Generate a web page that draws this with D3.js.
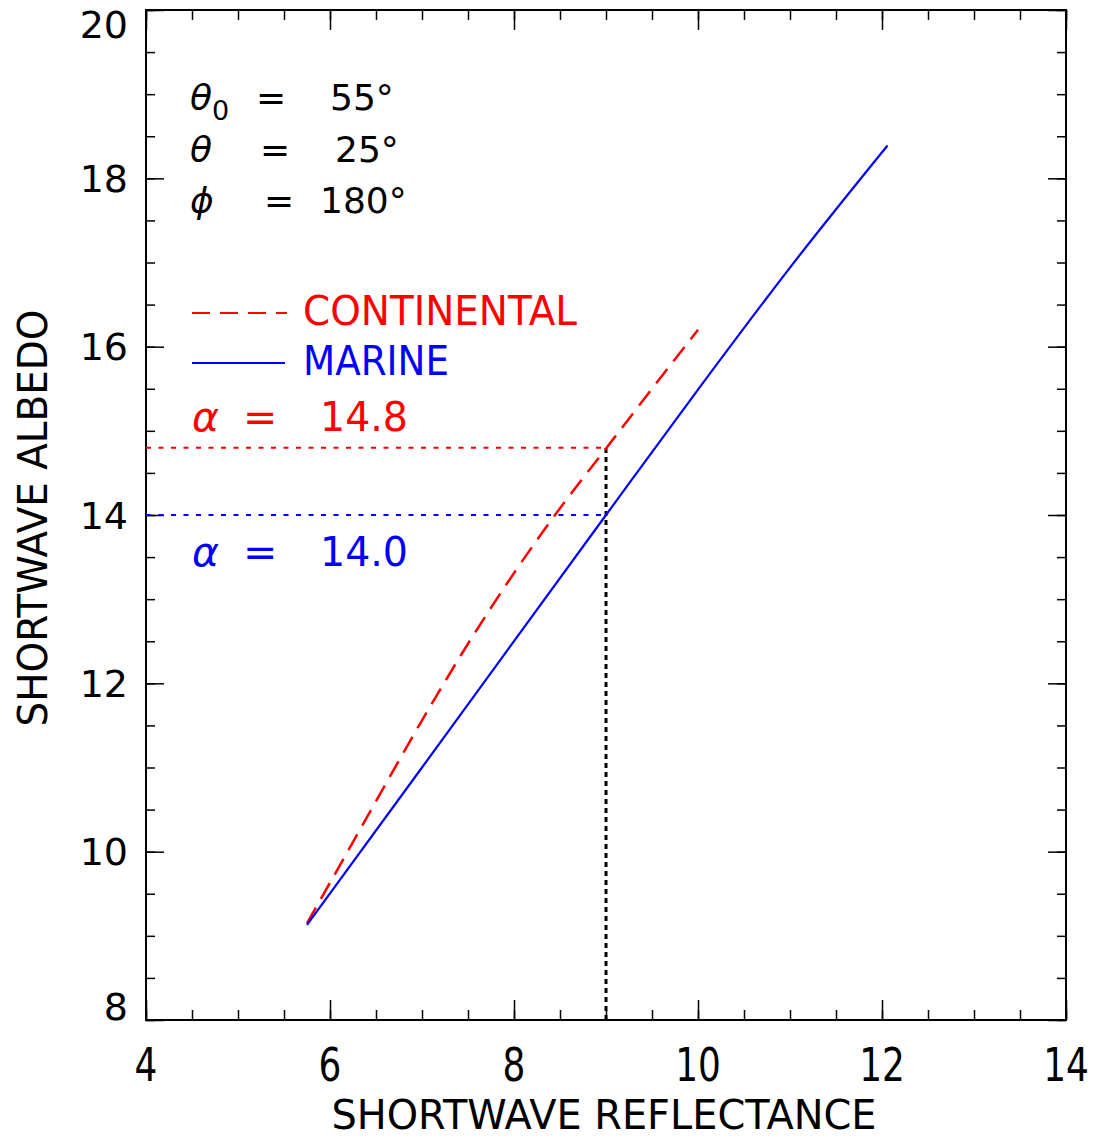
<!DOCTYPE html>
<html>
<head>
<meta charset="utf-8">
<script src="https://cdn.jsdelivr.net/npm/d3@7"></script>
<style>
  body { margin: 0; background: #fff; }
  svg { display: block; }
</style>
</head>
<body>
<div id="chart"></div>
<script>

// tick labels
var xTicks = [4, 6, 8, 10, 12, 14];
var yTicks = [8, 10, 12, 14, 16, 18, 20];

// marine curve (solid blue)
var marineX = [5.75, 7.0, 9.0, 10.0, 11.0, 12.06];
var marineY = [9.13, 11.0, 14.0, 15.49, 16.94, 18.39];

// continental curve (dashed red)
var contX = [5.75, 6.0, 6.5, 7.0, 7.5, 8.0, 8.5, 9.0, 9.5, 10.0];
var contY = [9.15, 9.63, 10.6, 11.56, 12.47, 13.31, 14.08, 14.79, 15.5, 16.2];

// read-off values
var reflectance = 9.0;
var albedoCont = 14.8;
var albedoMarine = 14.0;

var width = 1099, height = 1139;
var margin = {left: 146, right: 33, top: 10, bottom: 119};
var w = width - margin.left - margin.right;
var h = height - margin.top - margin.bottom;

var svg = d3.select("#chart").append("svg")
    .attr("width", width)
    .attr("height", height);

var g = svg.append("g")
    .attr("transform", "translate(" + margin.left + "," + margin.top + ")");

var x = d3.scaleLinear().domain([4, 14]).range([0, w]);
var y = d3.scaleLinear().domain([8, 20]).range([h, 0]);

var xMinor = d3.range(4, 14.001, 0.5);
var yMinor = d3.range(8, 20.001, 0.5);

function tickAxis(axis, vals, size) {
  return axis.tickValues(vals).tickSize(size).tickFormat("");
}

// minor ticks, all four sides, pointing inward
g.append("g").attr("transform", "translate(0," + h + ")")
    .call(tickAxis(d3.axisBottom(x), xMinor, -10));
g.append("g")
    .call(tickAxis(d3.axisTop(x), xMinor, -10));
g.append("g")
    .call(tickAxis(d3.axisLeft(y), yMinor, -9));
g.append("g").attr("transform", "translate(" + w + ",0)")
    .call(tickAxis(d3.axisRight(y), yMinor, -9));

// major ticks
g.append("g").attr("transform", "translate(0," + h + ")")
    .call(tickAxis(d3.axisBottom(x), xTicks, -20));
g.append("g")
    .call(tickAxis(d3.axisTop(x), xTicks, -20));
g.append("g")
    .call(tickAxis(d3.axisLeft(y), yTicks, -18));
g.append("g").attr("transform", "translate(" + w + ",0)")
    .call(tickAxis(d3.axisRight(y), yTicks, -18));

g.selectAll(".domain").remove();
g.selectAll(".tick line").attr("stroke", "#000").attr("stroke-width", 1.5);

// frame
g.append("rect")
    .attr("width", w).attr("height", h)
    .attr("fill", "none").attr("stroke", "#000").attr("stroke-width", 2);

// tick labels (x ones are narrow in the original, squeeze them)
g.selectAll(".xlab").data(xTicks).enter().append("text")
    .attr("class", "xlab")
    .attr("transform", function(d) {
      return "translate(" + x(d) + "," + (h + 61) + ") scale(0.78,1)";
    })
    .attr("text-anchor", "middle")
    .attr("font-family", "DejaVu Sans")
    .attr("font-size", 46)
    .text(function(d) { return d; });

// end labels sit inside the axis range, like the original
g.selectAll(".ylab").data(yTicks).enter().append("text")
    .attr("class", "ylab")
    .attr("x", -18)
    .attr("y", function(d) {
      if (d == 20) return y(d) + 14;
      if (d == 8) return y(d) - 14;
      return y(d);
    })
    .attr("dy", "0.36em")
    .attr("text-anchor", "end")
    .attr("font-family", "DejaVu Sans")
    .attr("font-size", 38)
    .text(function(d) { return d; });

// axis titles
svg.append("text")
    .attr("x", 604).attr("y", 1129)
    .attr("text-anchor", "middle")
    .attr("font-family", "DejaVu Sans")
    .attr("font-size", 40)
    .attr("textLength", 545)
    .attr("lengthAdjust", "spacingAndGlyphs")
    .text("SHORTWAVE REFLECTANCE");

svg.append("text")
    .attr("transform", "translate(47,518) rotate(-90)")
    .attr("text-anchor", "middle")
    .attr("font-family", "DejaVu Sans")
    .attr("font-size", 41)
    .attr("textLength", 417)
    .attr("lengthAdjust", "spacingAndGlyphs")
    .text("SHORTWAVE ALBEDO");

// read-off dotted lines
g.append("line")
    .attr("x1", x(4)).attr("x2", x(reflectance))
    .attr("y1", y(albedoCont)).attr("y2", y(albedoCont))
    .attr("stroke", "#f00").attr("stroke-width", 2)
    .attr("stroke-dasharray", "5,7.5");
g.append("line")
    .attr("x1", x(4)).attr("x2", x(reflectance))
    .attr("y1", y(albedoMarine)).attr("y2", y(albedoMarine))
    .attr("stroke", "#00f").attr("stroke-width", 2)
    .attr("stroke-dasharray", "5,7.5");
g.append("line")
    .attr("x1", x(reflectance)).attr("x2", x(reflectance))
    .attr("y1", y(8)).attr("y2", y(albedoCont))
    .attr("stroke", "#000").attr("stroke-width", 3)
    .attr("stroke-dasharray", "5,4");

// curves
var line = d3.line()
    .x(function(d) { return x(d[0]); })
    .y(function(d) { return y(d[1]); })
    .curve(d3.curveMonotoneX);

g.append("path")
    .datum(d3.zip(contX, contY))
    .attr("d", line)
    .attr("fill", "none").attr("stroke", "#f00").attr("stroke-width", 2.5)
    .attr("stroke-dasharray", "18,10");

g.append("path")
    .datum(d3.zip(marineX, marineY))
    .attr("d", line)
    .attr("fill", "none").attr("stroke", "#00f").attr("stroke-width", 2.2);

// legend
svg.append("line")
    .attr("x1", 192).attr("x2", 287).attr("y1", 313).attr("y2", 313)
    .attr("stroke", "#f00").attr("stroke-width", 2)
    .attr("stroke-dasharray", "18,10");
svg.append("line")
    .attr("x1", 192).attr("x2", 285).attr("y1", 363).attr("y2", 363)
    .attr("stroke", "#00f").attr("stroke-width", 2);

svg.append("text")
    .attr("x", 303).attr("y", 325)
    .attr("font-family", "DejaVu Sans").attr("font-size", 41)
    .attr("fill", "#f00")
    .attr("textLength", 274).attr("lengthAdjust", "spacingAndGlyphs")
    .text("CONTINENTAL");
svg.append("text")
    .attr("x", 303).attr("y", 375)
    .attr("font-family", "DejaVu Sans").attr("font-size", 41)
    .attr("fill", "#00f")
    .attr("textLength", 146).attr("lengthAdjust", "spacingAndGlyphs")
    .text("MARINE");

// alpha labels
function alphaLabel(val, yy, color) {
  var t = svg.append("text")
      .attr("y", yy)
      .attr("font-family", "DejaVu Sans").attr("font-size", 41)
      .attr("fill", color);
  t.append("tspan").attr("x", 192).attr("font-style", "italic").text("α");
  t.append("tspan").attr("x", 243).text("=");
  t.append("tspan").attr("x", 320)
      .attr("textLength", 88).attr("lengthAdjust", "spacingAndGlyphs")
      .text(d3.format(".1f")(val));
}
alphaLabel(albedoCont, 431, "#f00");
alphaLabel(albedoMarine, 566, "#00f");

// geometry annotation
var angles = [
  {sym: "θ", sub: "0", val: "55°", y: 110, eqx: 256, vx: 330},
  {sym: "θ", sub: "",  val: "25°", y: 162, eqx: 260, vx: 335},
  {sym: "ϕ", sub: "",  val: "180°", y: 213, eqx: 264, vx: 320}
];

angles.forEach(function(a) {
  var t = svg.append("text")
      .attr("y", a.y)
      .attr("font-family", "DejaVu Sans").attr("font-size", 36)
      .attr("fill", "#000");
  t.append("tspan").attr("x", 190).attr("font-style", "italic").text(a.sym);
  if (a.sub) {
    t.append("tspan").attr("dy", 10).attr("font-size", 27).text(a.sub);
  }
  t.append("tspan").attr("x", a.eqx).attr("y", a.y).text("=");
  t.append("tspan").attr("x", a.vx).attr("y", a.y).text(a.val);
});

</script>
</body>
</html>
